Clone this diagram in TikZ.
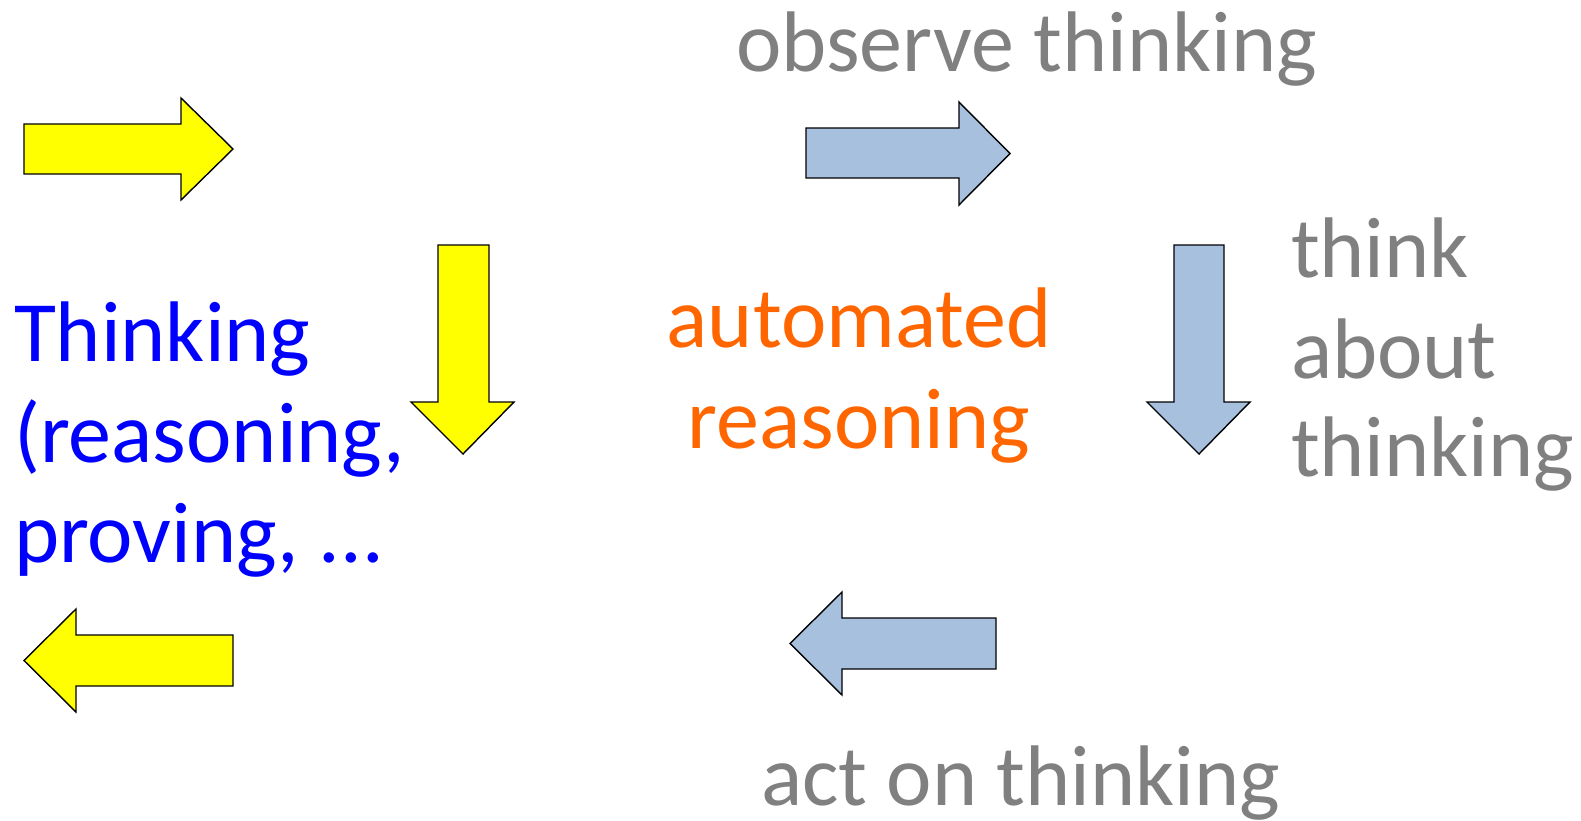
\documentclass[tikz,border=0pt]{standalone}
\usepackage{fontspec}
\setmainfont{Carlito}
\definecolor{arrowyellow}{RGB}{255,255,0}
\definecolor{arrowblue}{RGB}{167,192,222}
\definecolor{txtgray}{RGB}{128,128,128}
\definecolor{txtorange}{RGB}{255,102,0}
\definecolor{txtblue}{RGB}{0,0,255}
\begin{document}
\begin{tikzpicture}[x=1pt,y=-1pt,
  blockarrow/.style={draw=black,line width=1.4pt,line join=miter},
  yel/.style={blockarrow,fill=arrowyellow},
  blu/.style={blockarrow,fill=arrowblue},
  lbl/.style={inner sep=0pt,outer sep=0pt,anchor=base west,font=\fontsize{86}{104}\selectfont},
  lblc/.style={lbl,anchor=base}]
\useasboundingbox[fill=white] (0,0) rectangle (1581,820);
% yellow arrows
\draw[yel] (24,124) -- (181,124) -- (181,98) -- (233,149) -- (181,200) -- (181,174) -- (24,174) -- cycle;
\draw[yel] (438,245) -- (489,245) -- (489,402) -- (514,402) -- (463,454) -- (411,402) -- (438,402) -- cycle;
\draw[yel] (233,635) -- (76,635) -- (76,609) -- (24,660.5) -- (76,712) -- (76,686) -- (233,686) -- cycle;
% blue arrows
\draw[blu] (806,128) -- (959,128) -- (959,102) -- (1010,153.5) -- (959,205) -- (959,178) -- (806,178) -- cycle;
\draw[blu] (1174,245) -- (1224,245) -- (1224,402) -- (1250,402) -- (1199,454) -- (1147,402) -- (1174,402) -- cycle;
\draw[blu] (996,618) -- (842,618) -- (842,592) -- (790,643.5) -- (842,695) -- (842,669) -- (996,669) -- cycle;
% texts
\node[lbl,text=txtblue] (th1) at (14,361) {Thinking};
\node[lbl,text=txtblue] (th2) at (14,462) {(reasoning,};
\node[lbl,text=txtblue] (th3) at (14,562) {proving, ...};
\node[lblc,text=txtorange] (ar1) at (859,347) {automated};
\node[lblc,text=txtorange] (ar2) at (859,448) {reasoning};
\node[lbl,text=txtgray] (ob) at (736,71) {observe thinking};
\node[lbl,text=txtgray] (ta1) at (1291,277) {think};
\node[lbl,text=txtgray] (ta2) at (1291,378) {about};
\node[lbl,text=txtgray] (ta3) at (1291,476) {thinking};
\node[lbl,text=txtgray] (ac) at (761,805) {act on thinking};
\end{tikzpicture}
\end{document}
